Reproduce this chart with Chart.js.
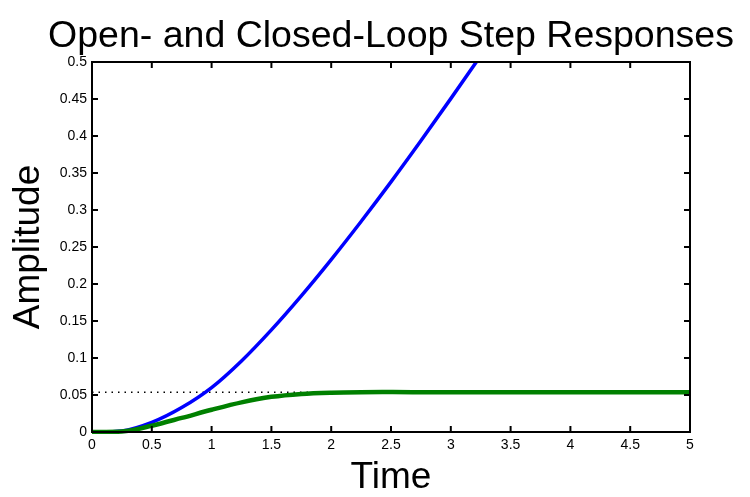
<!DOCTYPE html>
<html>
<head>
<meta charset="utf-8">
<script src="https://cdn.jsdelivr.net/npm/chart.js@4/dist/chart.umd.min.js"></script>
<style>
  html, body { margin: 0; padding: 0; background: #fff; }
  canvas { display: block; }
</style>
</head>
<body>
<canvas id="c" width="750" height="497"></canvas>
<script>
// Open-loop step response (runs off the top of the axes after t ≈ 3.2)
const openTime = [0, 0.25, 0.5, 0.75, 1.0, 1.25, 1.5, 1.75, 2.0, 2.25, 2.5, 2.75, 3.0, 3.25, 3.5];
const openLoop = [0, 0.0015, 0.013, 0.033, 0.060, 0.096, 0.138, 0.184, 0.233, 0.2845, 0.338, 0.3935, 0.4505, 0.5085, 0.5675];

// Closed-loop step response
const closedTime = [0, 0.25, 0.5, 0.75, 1.0, 1.25, 1.5, 1.75, 2.0, 2.25, 2.5, 2.75, 3.0, 3.5, 4.0, 4.5, 5.0];
const closedLoop = [0, 0.0008, 0.0085, 0.019, 0.030, 0.040, 0.0475, 0.0515, 0.0532, 0.0538, 0.0539, 0.0538, 0.0537, 0.0537, 0.0537, 0.0537, 0.0537];

// Closed-loop steady-state value (dotted reference line)
const steadyState = 0.0537;
const steadyTime = [0, 5];

const xTickValues = [0, 0.5, 1, 1.5, 2, 2.5, 3, 3.5, 4, 4.5, 5];
const xTickLabels = ['0', '0.5', '1', '1.5', '2', '2.5', '3', '3.5', '4', '4.5', '5'];
const yTickValues = [0, 0.05, 0.1, 0.15, 0.2, 0.25, 0.3, 0.35, 0.4, 0.45, 0.5];
const yTickLabels = ['0', '0.05', '0.1', '0.15', '0.2', '0.25', '0.3', '0.35', '0.4', '0.45', '0.5'];

const chartTitle = 'Open- and Closed-Loop Step Responses';

const FONT = 'Liberation Sans, Arial, Helvetica, sans-serif';

const toPoints = (xs, ys) => xs.map((t, i) => ({ x: t, y: ys[i] }));

// Box around the axes with inward tick marks on all four sides
const axesBox = {
  id: 'axesBox',
  afterDatasetsDraw(chart) {
    const { ctx, chartArea: a, scales } = chart;
    const x = scales.x, y = scales.y;
    const len = 6;
    ctx.save();
    ctx.strokeStyle = '#000';
    ctx.lineWidth = 2;
    ctx.beginPath();
    xTickValues.forEach(v => {
      const px = x.getPixelForValue(v);
      ctx.moveTo(px, a.bottom); ctx.lineTo(px, a.bottom - len);
      ctx.moveTo(px, a.top); ctx.lineTo(px, a.top + len);
    });
    yTickValues.forEach(v => {
      const py = y.getPixelForValue(v);
      ctx.moveTo(a.left, py); ctx.lineTo(a.left + len, py);
      ctx.moveTo(a.right, py); ctx.lineTo(a.right - len, py);
    });
    ctx.stroke();
    ctx.strokeRect(a.left, a.top, a.right - a.left, a.bottom - a.top);
    ctx.restore();
  }
};

// Title centred over the axes, allowed to run wider than them
const axesTitle = {
  id: 'axesTitle',
  afterDraw(chart) {
    const { ctx, chartArea: a } = chart;
    ctx.save();
    ctx.fillStyle = '#000';
    ctx.font = '37.5px ' + FONT;
    ctx.textAlign = 'center';
    ctx.textBaseline = 'alphabetic';
    ctx.fillText(chartTitle, (a.left + a.right) / 2, a.top - 15);
    ctx.restore();
  }
};

new Chart(document.getElementById('c'), {
  type: 'line',
  data: {
    datasets: [
      {
        label: 'Steady state',
        data: toPoints(steadyTime, [steadyState, steadyState]),
        borderColor: '#000',
        borderWidth: 1.5,
        borderDash: [1.5, 5],
        pointRadius: 0,
        order: 3
      },
      {
        label: 'Open loop',
        data: toPoints(openTime, openLoop),
        borderColor: '#0000ff',
        borderWidth: 3.5,
        pointRadius: 0,
        cubicInterpolationMode: 'monotone',
        clip: 0,
        order: 2
      },
      {
        label: 'Closed loop',
        data: toPoints(closedTime, closedLoop),
        borderColor: '#008000',
        borderWidth: 4.5,
        pointRadius: 0,
        cubicInterpolationMode: 'monotone',
        clip: 2,
        order: 1
      }
    ]
  },
  options: {
    responsive: false,
    animation: false,
    layout: { padding: { left: 0, right: 60, top: 62, bottom: 0 } },
    plugins: {
      legend: { display: false },
      tooltip: { enabled: false },
      title: { display: false }
    },
    scales: {
      x: {
        type: 'linear',
        min: 0,
        max: 5,
        grid: { display: false, drawTicks: false },
        border: { display: false },
        afterBuildTicks: s => { s.ticks = xTickValues.map(v => ({ value: v })); },
        afterFit: s => { s.height = 65; },
        ticks: {
          color: '#000',
          padding: 5,
          maxRotation: 0,
          autoSkip: false,
          font: { family: FONT, size: 14 },
          callback: (v, i) => xTickLabels[i]
        },
        title: {
          display: true,
          text: 'Time',
          color: '#000',
          font: { family: FONT, size: 37, lineHeight: 1 },
          padding: { top: 0, bottom: 1 }
        }
      },
      y: {
        type: 'linear',
        min: 0,
        max: 0.5,
        grid: { display: false, drawTicks: false },
        border: { display: false },
        afterBuildTicks: s => { s.ticks = yTickValues.map(v => ({ value: v })); },
        afterFit: s => { s.width = 92; },
        ticks: {
          color: '#000',
          padding: 5,
          autoSkip: false,
          font: { family: FONT, size: 14 },
          callback: (v, i) => yTickLabels[i]
        },
        title: {
          display: true,
          text: 'Amplitude',
          color: '#000',
          font: { family: FONT, size: 37, lineHeight: 1 },
          padding: { top: 10, bottom: 0 }
        }
      }
    }
  },
  plugins: [axesBox, axesTitle]
});
</script>
</body>
</html>
